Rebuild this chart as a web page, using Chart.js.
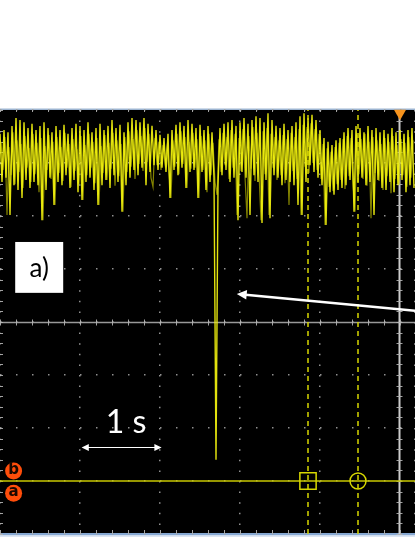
<!DOCTYPE html>
<html>
<head>
<meta charset="utf-8">
<script src="https://cdn.jsdelivr.net/npm/chart.js@4"></script>
<style>
  html, body { margin: 0; padding: 0; background: #fff; }
  canvas { display: block; }
</style>
</head>
<body>
<canvas id="scope" width="415" height="537"></canvas>
<script>
// screen units: time in s (1 s/div), amplitude in divisions
const T_VIEW = [0, 5.1875];
const V_VIEW = [-4, 4];
const SAMPLE_DT = 0.025; // record time base, one sample every 25 ms
const PERSIST_T0 = 0.0125; // older acquisition, half a sample later

// ch A trace (the big dip near 2.7 s is the event)
const TRACE = [
  3.55, 2.64, 3.62, 2.72, 3.58, 2.02, 3.70, 2.58, 3.85, 2.49,
  3.81, 2.34, 3.77, 2.68, 3.66, 2.53, 3.74, 2.64, 3.62, 2.58,
  3.70, 1.92, 3.77, 2.49, 3.66, 2.72, 3.58, 2.21, 3.70, 2.64,
  3.62, 2.58, 3.72, 2.77, 3.55, 2.53, 3.66, 2.68, 3.74, 2.45,
  3.70, 2.30, 3.62, 2.64, 3.77, 2.72, 3.58, 2.49, 3.66, 2.21,
  3.74, 2.58, 3.62, 2.68, 3.70, 2.53, 3.81, 2.77, 3.66, 2.64,
  3.72, 2.08, 3.58, 2.58, 3.77, 2.72, 3.85, 2.87, 3.81, 2.77,
  3.77, 2.91, 3.85, 2.58, 3.74, 2.83, 3.70, 2.96, 3.62, 2.87,
  3.53, 2.91, 3.47, 2.83, 3.55, 2.34, 3.62, 2.87, 3.72, 2.77,
  3.77, 2.91, 3.70, 2.53, 3.81, 2.83, 3.74, 2.87, 3.66, 2.34,
  3.72, 2.83, 3.62, 2.49, 3.70, 2.64, 3.58, 2.72, -2.60, 2.58,
  3.66, 2.77, 3.74, 2.87, 3.77, 2.64, 3.81, 2.72, 3.70, 1.92,
  3.77, 2.83, 3.85, 2.72, 3.74, 2.02, 3.81, 2.77, 3.88, 2.64,
  3.85, 1.87, 3.77, 2.68, 3.94, 1.96, 3.81, 2.77, 3.70, 2.72,
  3.66, 2.58, 3.74, 2.68, 3.62, 2.64, 3.70, 2.58, 3.77, 2.21,
  3.88, 2.02, 3.94, 2.64, 3.85, 2.96, 3.91, 2.83, 3.81, 2.72,
  3.62, 2.58, 3.47, 1.83, 3.40, 2.45, 3.34, 2.40, 3.43, 2.49,
  3.47, 2.53, 3.58, 2.58, 3.66, 2.68, 3.62, 2.08, 3.70, 2.64,
  3.66, 2.72, 3.58, 2.58, 3.70, 2.64, 3.62, 2.02, 3.66, 2.68,
  3.58, 2.53, 3.62, 2.49, 3.55, 2.64, 3.66, 2.45, 3.58, 2.58,
  3.62, 2.68, 3.55, 2.45, 3.62, 2.58, 3.66, 2.53
];

// dimmer persistence of the previous sweep
const PERSIST = [
  3.40, 2.87, 3.49, 2.02, 3.30, 2.77, 3.58, 2.60, 3.43, 2.83,
  3.36, 2.53, 3.51, 2.91, 3.28, 2.64, 3.55, 2.79, 3.38, 2.45,
  3.47, 1.92, 3.32, 2.87, 3.53, 2.70, 3.40, 2.21, 3.49, 2.81,
  3.30, 2.66, 3.57, 2.91, 3.36, 2.55, 3.45, 2.85, 3.26, 2.60,
  3.51, 2.30, 3.34, 2.77, 3.55, 2.91, 3.40, 2.62, 3.47, 2.21,
  3.32, 2.81, 3.53, 2.68, 3.38, 2.89, 3.57, 2.57, 3.43, 2.75,
  3.36, 2.08, 3.49, 2.83, 3.60, 2.93, 3.45, 2.70, 3.62, 2.98,
  3.51, 2.85, 3.66, 3.02, 3.55, 2.72, 2.55, 3.47, 2.96, 3.40,
  2.87, 3.34, 3.00, 3.30, 2.81, 2.34, 3.43, 2.93, 3.55, 2.79,
  3.60, 2.98, 3.49, 2.53, 3.40, 2.89, 3.57, 2.91, 3.45, 2.34,
  3.51, 2.87, 3.43, 2.45, 3.55, 2.77, 3.38, 2.64, 2.40, 3.45,
  2.83, 3.57, 2.96, 3.49, 2.70, 3.62, 2.91, 3.55, 2.02, 3.47,
  2.85, 3.64, 2.75, 1.96, 3.51, 2.89, 3.68, 2.66, 3.57, 2.81,
  1.92, 3.60, 2.79, 3.66, 2.02, 3.55, 2.91, 3.49, 2.68, 3.43,
  2.77, 3.53, 2.62, 3.45, 2.21, 3.57, 2.85, 3.49, 2.70, 3.64,
  2.02, 3.72, 2.93, 3.68, 2.81, 3.75, 3.00, 3.64, 2.87, 3.55,
  2.70, 3.36, 1.83, 3.28, 2.55, 3.21, 2.47, 3.30, 2.60, 3.38,
  2.68, 3.45, 2.51, 3.51, 2.75, 3.47, 2.62, 2.08, 3.53, 2.79,
  3.45, 2.70, 3.55, 2.57, 3.40, 1.96, 3.49, 2.81, 3.43, 2.66,
  3.36, 2.49, 3.47, 2.75, 3.40, 2.43, 3.51, 2.70, 3.34, 2.60,
  3.45, 2.77, 3.38, 2.55, 3.49, 2.72, 3.43
];

const CH_LEVEL = -3;            // channel reference line
const CURSOR_T = [3.85, 4.475]; // time cursors (square, circle)
const CENTER_T = 5.0;           // screen centre / trigger position
const TRIGGER_V = 3.94;
const REF_T = 0.17;
const REF_LABELS = ["b", "a"];
const REF_V = [-2.81, -3.23];

const LABEL_TEXT = "a)";
const LABEL_BOX = [0.19, 0.79, 1.51, 0.55]; // t0, t1, v0, v1
const ARROW_FROM = [5.1875, 0.21];
const ARROW_TO = [2.96, 0.53];
const SCALE_TEXT = "1 s";
const SCALE_BAR = [1.02, 2.02, -2.36];
const SCALE_TEXT_POS = [1.575, -2.09];

const YELLOW = "rgba(245,245,15,0.92)";
const DIM_YELLOW = "rgba(175,175,0,0.75)";
const CURSOR_YELLOW = "#d8d800";
const ORANGE = "#ff4d0a";

function arrowHead(ctx, x1, y1, x2, y2, size) {
  const a = Math.atan2(y2 - y1, x2 - x1);
  ctx.beginPath();
  ctx.moveTo(x2, y2);
  ctx.lineTo(x2 - size * Math.cos(a - 0.45), y2 - size * Math.sin(a - 0.45));
  ctx.lineTo(x2 - size * Math.cos(a + 0.45), y2 - size * Math.sin(a + 0.45));
  ctx.closePath();
  ctx.fill();
}

const scopeFx = {
  id: "scopeFx",
  beforeDraw(chart) {
    const { ctx, chartArea: a } = chart;
    ctx.save();
    ctx.fillStyle = "#fff";
    ctx.fillRect(0, 0, chart.width, chart.height);
    ctx.fillStyle = "#000";
    ctx.fillRect(a.left, a.top, a.right - a.left, a.bottom - a.top);
    // bezel lines
    ctx.fillStyle = "#9db5d2";
    ctx.fillRect(0, a.top - 1.5, chart.width, 1.5);
    ctx.fillStyle = "#86a8d2";
    ctx.fillRect(0, a.bottom - 1, chart.width, 2.5);
    ctx.fillStyle = "#dce6f3";
    ctx.fillRect(0, a.bottom + 1.5, chart.width, chart.height);
    ctx.restore();
  },
  beforeDatasetsDraw(chart) {
    const { ctx, chartArea: a, scales: { x, y } } = chart;
    const y0 = Math.round(y.getPixelForValue(0)) + 0.5;
    const xc = Math.round(x.getPixelForValue(CENTER_T)) - 0.5;
    ctx.save();
    // centre crosshair
    ctx.strokeStyle = "rgba(170,170,170,0.9)";
    ctx.lineWidth = 1.5;
    ctx.beginPath();
    ctx.moveTo(a.left, y0);
    ctx.lineTo(a.right, y0);
    ctx.stroke();
    ctx.strokeStyle = "rgba(215,215,215,0.95)";
    ctx.lineWidth = 2;
    ctx.beginPath();
    ctx.moveTo(xc, a.top);
    ctx.lineTo(xc, a.bottom);
    ctx.stroke();
    // minor ticks, 5 per division
    ctx.strokeStyle = "rgba(180,180,180,0.9)";
    ctx.lineWidth = 1;
    ctx.beginPath();
    for (let t = 0; t <= T_VIEW[1]; t += 0.2) {
      const px = Math.round(x.getPixelForValue(t)) + 0.5;
      ctx.moveTo(px, y0 - 3); ctx.lineTo(px, y0 + 3);
      ctx.moveTo(px, a.bottom - 4); ctx.lineTo(px, a.bottom);
      ctx.moveTo(px, a.top); ctx.lineTo(px, a.top + 2);
    }
    for (let v = V_VIEW[0]; v <= V_VIEW[1] + 0.01; v += 0.2) {
      const py = Math.round(y.getPixelForValue(v)) + 0.5;
      ctx.moveTo(xc - 3, py); ctx.lineTo(xc + 3, py);
      ctx.moveTo(a.left, py); ctx.lineTo(a.left + 3, py);
    }
    ctx.stroke();
    ctx.restore();
  },
  afterDraw(chart) {
    const { ctx, scales: { x, y } } = chart;
    ctx.save();
    // channel letters on the orange markers
    ctx.fillStyle = "#1a0800";
    ctx.font = "bold 15px 'DejaVu Sans'";
    ctx.textAlign = "center";
    ctx.textBaseline = "middle";
    REF_LABELS.forEach((l, i) => {
      ctx.fillText(l, x.getPixelForValue(REF_T), y.getPixelForValue(REF_V[i]) - 1);
    });

    // "a)" label
    const bx0 = x.getPixelForValue(LABEL_BOX[0]), bx1 = x.getPixelForValue(LABEL_BOX[1]);
    const by0 = y.getPixelForValue(LABEL_BOX[2]), by1 = y.getPixelForValue(LABEL_BOX[3]);
    ctx.fillStyle = "#fff";
    ctx.fillRect(bx0, by0, bx1 - bx0, by1 - by0);
    ctx.fillStyle = "#000";
    ctx.font = "26px Lato";
    ctx.textBaseline = "middle";
    ctx.fillText(LABEL_TEXT, (bx0 + bx1) / 2, (by0 + by1) / 2 + 1);

    // arrow to the dip
    const ax1 = x.getPixelForValue(ARROW_FROM[0]), ay1 = y.getPixelForValue(ARROW_FROM[1]);
    const ax2 = x.getPixelForValue(ARROW_TO[0]), ay2 = y.getPixelForValue(ARROW_TO[1]);
    ctx.strokeStyle = "#fff";
    ctx.fillStyle = "#fff";
    ctx.lineWidth = 2.5;
    ctx.beginPath();
    ctx.moveTo(ax1, ay1);
    ctx.lineTo(ax2 + 6, ay2 + 0.6);
    ctx.stroke();
    arrowHead(ctx, ax1, ay1, ax2, ay2, 11);

    // 1 s scale bar
    const sx1 = x.getPixelForValue(SCALE_BAR[0]), sx2 = x.getPixelForValue(SCALE_BAR[1]);
    const sy = Math.round(y.getPixelForValue(SCALE_BAR[2])) + 0.5;
    ctx.lineWidth = 1.2;
    ctx.beginPath();
    ctx.moveTo(sx1 + 4, sy);
    ctx.lineTo(sx2 - 4, sy);
    ctx.stroke();
    arrowHead(ctx, sx2, sy, sx1, sy, 8);
    arrowHead(ctx, sx1, sy, sx2, sy, 8);
    ctx.font = "32px Lato";
    ctx.textBaseline = "alphabetic";
    ctx.fillText(SCALE_TEXT, x.getPixelForValue(SCALE_TEXT_POS[0]), y.getPixelForValue(SCALE_TEXT_POS[1]));
    ctx.restore();
  }
};

const span = (v) => [{ x: T_VIEW[0], y: v }, { x: T_VIEW[1], y: v }];
const vline = (t) => [{ x: t, y: V_VIEW[0] }, { x: t, y: V_VIEW[1] }];

new Chart(document.getElementById("scope"), {
  type: "line",
  data: {
    datasets: [
      {
        label: "trigger",
        data: [{ x: CENTER_T, y: TRIGGER_V }],
        showLine: false,
        pointStyle: "triangle",
        rotation: 180,
        pointRadius: 7,
        backgroundColor: "#f7941d",
        borderWidth: 0,
        clip: false,
        order: 0,
      },
      {
        label: "ref",
        data: REF_V.map((v) => ({ x: REF_T, y: v })),
        showLine: false,
        pointRadius: 8.5,
        backgroundColor: ORANGE,
        borderWidth: 0,
        clip: false,
        order: 1,
      },
      {
        label: "cursor marks",
        data: CURSOR_T.map((t) => ({ x: t, y: CH_LEVEL })),
        showLine: false,
        pointStyle: ["rect", "circle"],
        pointRadius: [11.5, 8],
        borderColor: CURSOR_YELLOW,
        backgroundColor: "rgba(0,0,0,0)",
        borderWidth: 1.5,
        order: 2,
      },
      {
        label: "cursor 1",
        data: vline(CURSOR_T[0]),
        borderColor: CURSOR_YELLOW,
        borderWidth: 1.5,
        borderDash: [5, 4],
        pointRadius: 0,
        order: 3,
      },
      {
        label: "cursor 2",
        data: vline(CURSOR_T[1]),
        borderColor: CURSOR_YELLOW,
        borderWidth: 1.5,
        borderDash: [5, 4],
        pointRadius: 0,
        order: 4,
      },
      {
        label: "level",
        data: span(CH_LEVEL),
        borderColor: "#c8c800",
        borderWidth: 1.5,
        pointRadius: 0,
        order: 5,
      },
      {
        label: "ch A",
        data: TRACE.map((v, i) => ({ x: i * SAMPLE_DT, y: v })),
        borderColor: YELLOW,
        borderWidth: 1.4,
        pointRadius: 0,
        tension: 0,
        order: 6,
      },
      {
        label: "ch A persistence",
        data: PERSIST.map((v, i) => ({ x: PERSIST_T0 + i * SAMPLE_DT, y: v })),
        borderColor: DIM_YELLOW,
        borderWidth: 1.2,
        pointRadius: 0,
        tension: 0,
        order: 7,
      },
    ],
  },
  options: {
    responsive: false,
    animation: false,
    events: [],
    layout: { autoPadding: false, padding: { top: 110, bottom: 3, left: 0, right: 0 } },
    plugins: { legend: { display: false }, tooltip: { enabled: false } },
    scales: {
      x: {
        type: "linear",
        min: T_VIEW[0],
        max: T_VIEW[1],
        ticks: { display: false, stepSize: 1 },
        grid: { color: "rgba(160,160,160,0.9)", lineWidth: 1.5, drawTicks: false },
        border: { display: false, dash: [1.5, 9.1] },
        afterFit: (s) => { s.height = 0; },
      },
      y: {
        type: "linear",
        min: V_VIEW[0],
        max: V_VIEW[1],
        ticks: { display: false, stepSize: 1 },
        grid: { color: "rgba(160,160,160,0.9)", lineWidth: 1.5, drawTicks: false },
        border: { display: false, dash: [1.5, 14.5] },
        afterFit: (s) => { s.width = 0; },
      },
    },
  },
  plugins: [scopeFx],
});
</script>
</body>
</html>
